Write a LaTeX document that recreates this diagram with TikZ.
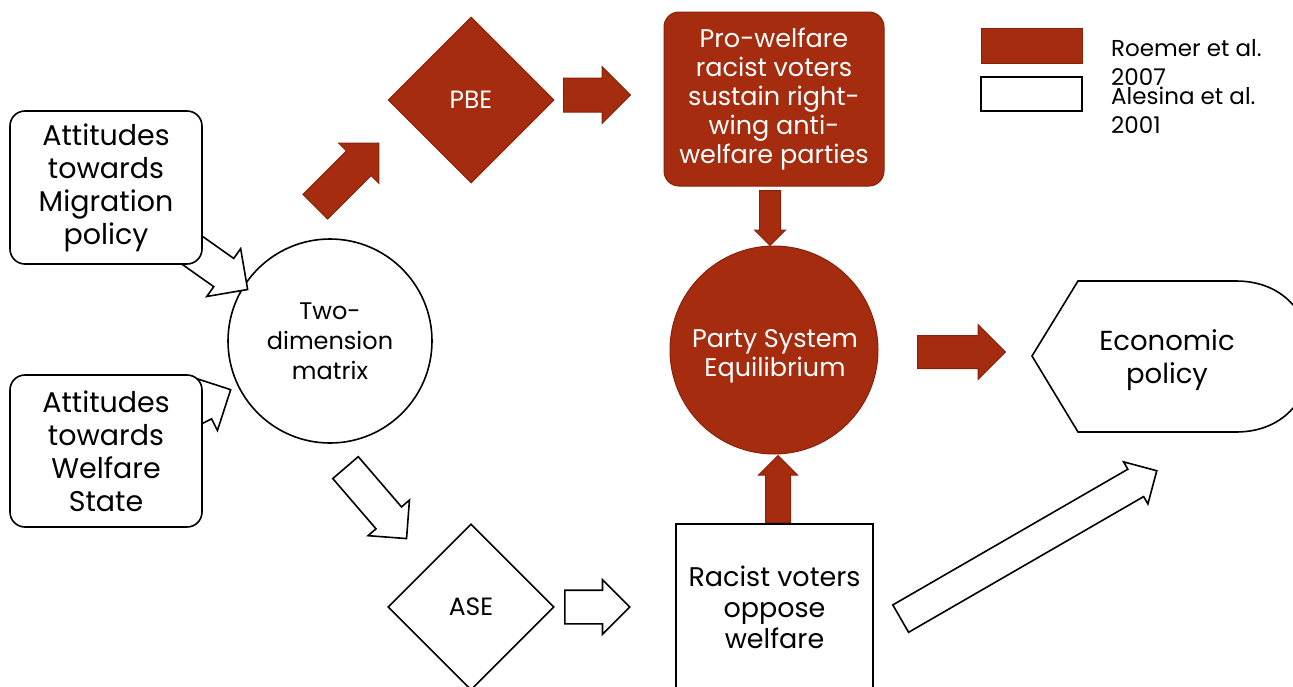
\documentclass[tikz,border=0pt]{standalone}
\usepackage{fontspec}
\setmainfont{Poppins}
\usetikzlibrary{shapes.geometric,shapes.arrows}
\definecolor{rust}{RGB}{166,44,16}
\definecolor{rustline}{RGB}{135,34,10}

\begin{document}
\begin{tikzpicture}[x=1pt,y=-1pt,
    box/.style={draw,line width=1.6pt,fill=white,align=center,inner sep=0pt},
    redbox/.style={draw=rustline,line width=1pt,fill=rust,text=white,align=center,inner sep=0pt},
    blk/.style={single arrow,single arrow head indent=0pt,inner xsep=0pt,minimum width=0pt,anchor=tail},
    whitearrow/.style={blk,draw,line width=1.6pt,fill=white},
    redarrow/.style={blk,draw=rustline,line width=1pt,fill=rust}]

                \useasboundingbox (0,0) rectangle (1293,686);
                \clip (0,0) rectangle (1293,686);

                % matrix of the two attitudes
                \node[box,circle,minimum size=204pt,font=\fontsize{24}{30}\selectfont] (dim) at (330,341) {Two-\\dimension\\matrix};

                % inputs, tails hidden under the boxes
                \node[whitearrow,rotate=-35.3,minimum height=80pt,inner ysep=16.5pt,single arrow head extend=12pt] (migIn) at (181.7,242.8) {};
                \node[whitearrow,rotate=27,minimum height=70pt,inner ysep=16.5pt,single arrow head extend=13pt] (welIn) at (167.6,421.8) {};

                \node[box,rounded corners=15pt,minimum width=192pt,minimum height=153pt,font=\fontsize{28.5}{33}\selectfont] (mig) at (106,187.5) {Attitudes\\towards\\Migration\\policy};
                \node[box,rounded corners=15pt,minimum width=192pt,minimum height=152pt,font=\fontsize{28.5}{33}\selectfont] (wel) at (106,451) {Attitudes\\towards\\Welfare\\State};

                % Roemer branch
                \node[redbox,diamond,aspect=1,minimum size=166pt,font=\fontsize{25}{30}\selectfont] (pbe) at (471,100) {PBE};
                \node[redbox,rounded corners=15pt,minimum width=220pt,minimum height=174pt,font=\fontsize{25.5}{29}\selectfont] (pro) at (774,99) {Pro-welfare\\racist voters\\sustain right-\\wing anti-\\welfare parties};
                \node[redbox,circle,minimum size=208pt] (pse) at (774,350) {};
                \node[text=white,align=center,font=\fontsize{25.5}{29}\selectfont] (pseTxt) at (775,356) {Party System\\Equilibrium};

                % Alesina branch
                \node[box,diamond,aspect=1,minimum size=166pt,font=\fontsize{25}{30}\selectfont] (ase) at (471,607) {ASE};
                \node[box,minimum width=197pt,minimum height=166pt,font=\fontsize{27}{31}\selectfont] (racist) at (774.5,607) {Racist voters\\oppose\\welfare};

                % outcome
                \node[align=center,font=\fontsize{27.5}{33}\selectfont] (econ) at (1167,360) {Economic\\policy};
                \draw[line width=1.6pt] (1032,356) -- (1078,281) -- (1236,281)
                    .. controls (1337,281) and (1337,432) .. (1236,432) -- (1078,432) -- cycle;

                % block arrows
                \node[redarrow,rotate=45,minimum height=90pt,inner ysep=17pt,single arrow head extend=11pt] (toPbe) at (315,207) {};
                \node[redarrow,minimum height=67pt,inner ysep=16.5pt,single arrow head extend=11.5pt] (toPro) at (563,95) {};
                \node[redarrow,rotate=-90,minimum height=55pt,inner ysep=10pt,single arrow head extend=5pt] (proPse) at (770,190) {};
                \node[redarrow,rotate=90,minimum height=67pt,inner ysep=12pt,single arrow head extend=7pt] (racPse) at (778,523) {};
                \node[redarrow,minimum height=88pt,inner ysep=16pt,single arrow head extend=11pt] (pseEcon) at (917,352) {};

                \node[whitearrow,rotate=-49.3,minimum height=93.6pt,inner ysep=16pt,single arrow head extend=10.5pt] (toAse) at (345,467) {};
                \node[whitearrow,minimum height=65pt,inner ysep=16pt,single arrow head extend=10.5pt] (toRac) at (564,607) {};
                \node[whitearrow,rotate=30,minimum height=295.7pt,inner ysep=15pt,single arrow head extend=8.5pt] (racEcon) at (900,619) {};

                % legend
                \node[redbox,minimum width=101pt,minimum height=35pt] (legR) at (1031.5,45.5) {};
                \node[box,minimum width=101pt,minimum height=34pt] (legA) at (1031.5,94) {};
                \node[anchor=west,align=left,inner sep=0pt,font=\fontsize{23}{29}\selectfont] (txtR) at (1111,62) {Roemer et al.\\2007};
                \node[anchor=west,align=left,inner sep=0pt,font=\fontsize{23}{29}\selectfont] (txtA) at (1111,110) {Alesina et al.\\2001};

            \end{tikzpicture}
\end{document}
